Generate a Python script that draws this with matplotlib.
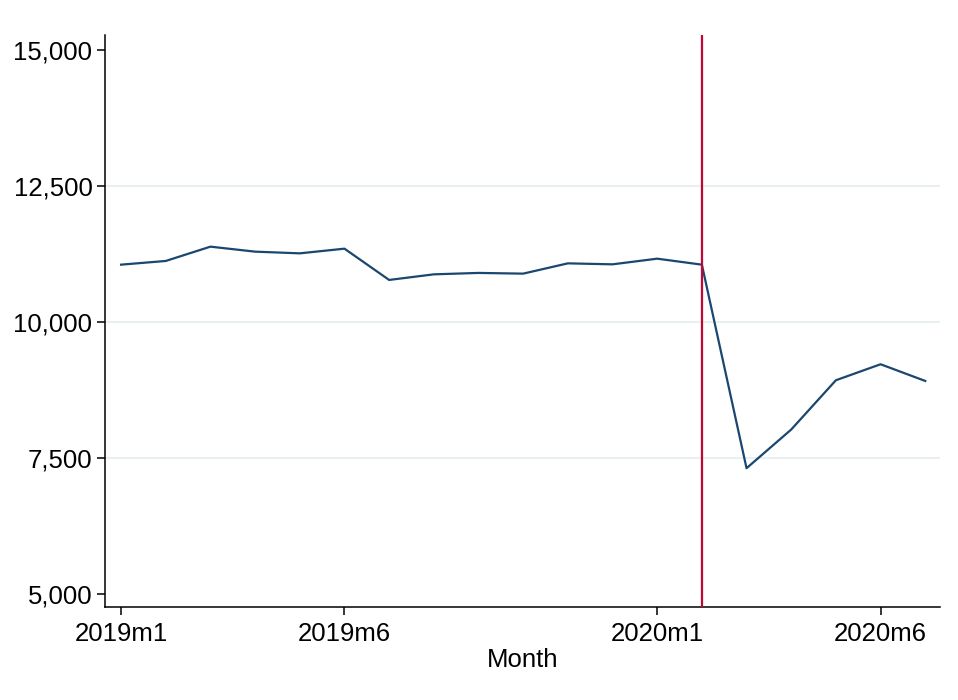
import numpy as np
import matplotlib.pyplot as plt

plt.rcParams['font.family'] = ['Liberation Sans', 'DejaVu Sans']

months = ["2019m1", "2019m2", "2019m3", "2019m4", "2019m5", "2019m6", "2019m7",
          "2019m8", "2019m9", "2019m10", "2019m11", "2019m12", "2020m1", "2020m2",
          "2020m3", "2020m4", "2020m5", "2020m6", "2020m7"]
values = [11053, 11121, 11384, 11292, 11261, 11347, 10772, 10875, 10901, 10888,
          11077, 11059, 11163, 11053, 7311, 8022, 8928, 9222, 8915]
tick_months = ["2019m1", "2019m6", "2020m1", "2020m6"]
yticks = [5000, 7500, 10000, 12500, 15000]
grid_vals = [7500, 10000, 12500]
event_month = "2020m2"

x = np.arange(len(months))

fig = plt.figure(figsize=(9.58, 7.0), dpi=100)
ax = fig.add_axes([0.1096, 0.1329, 0.8716, 0.8171])

for g in grid_vals:
    ax.axhline(g, color='#e8f0f2', lw=1.5, zorder=0)

ax.plot(x, values, color='#1a476f', lw=1.6, zorder=2)
ax.axvline(months.index(event_month), color='#c10534', lw=1.6, zorder=3)

ax.set_xlim(-0.36, 18.33)
ax.set_ylim(4760, 15275)

ax.set_xticks([months.index(m) for m in tick_months])
ax.set_xticklabels(tick_months)
ax.set_yticks(yticks)
ax.set_yticklabels([f"{v:,}" for v in yticks])
ax.tick_params(axis='both', direction='out', length=6, width=1.1, labelsize=18.5, colors='black')
ax.tick_params(axis='x', pad=5)
ax.tick_params(axis='y', pad=3)

for s in ['top', 'right']:
    ax.spines[s].set_visible(False)
for s in ['left', 'bottom']:
    ax.spines[s].set_linewidth(1.1)
    ax.spines[s].set_color('black')

ax.set_xlabel("Month", fontsize=18.5, labelpad=1)

fig.savefig("out.png", dpi=100)
